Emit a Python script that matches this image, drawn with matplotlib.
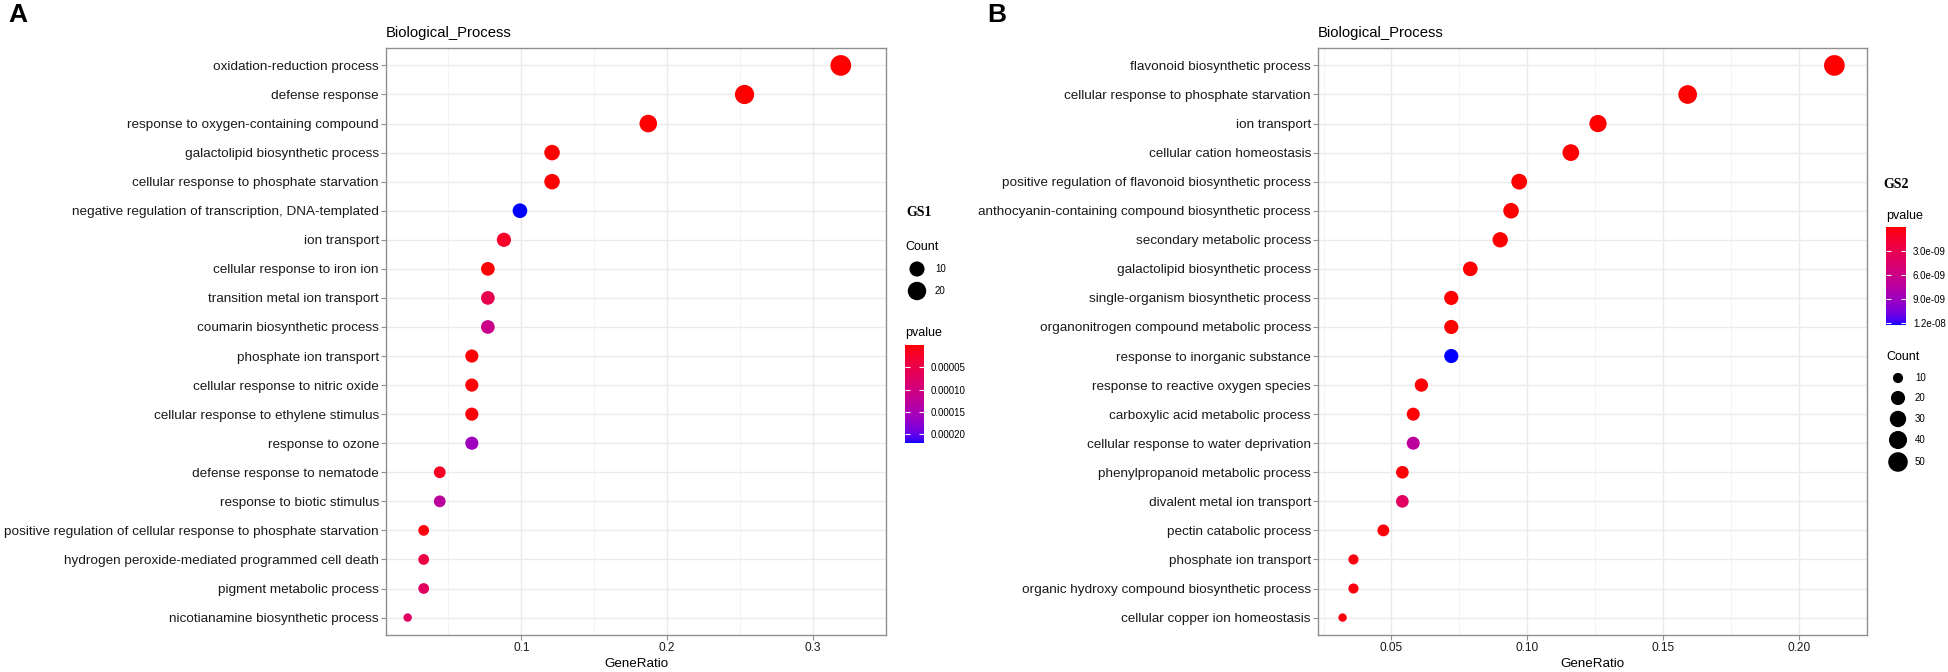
import numpy as np
import matplotlib
matplotlib.use("Agg")
import matplotlib.pyplot as plt
import matplotlib.colors as mcolors
from matplotlib.cm import ScalarMappable

plt.rcParams['font.family'] = ['Liberation Sans', 'DejaVu Sans']

# ---- data ----
gs1_terms = [
    "oxidation-reduction process",
    "defense response",
    "response to oxygen-containing compound",
    "galactolipid biosynthetic process",
    "cellular response to phosphate starvation",
    "negative regulation of transcription, DNA-templated",
    "ion transport",
    "cellular response to iron ion",
    "transition metal ion transport",
    "coumarin biosynthetic process",
    "phosphate ion transport",
    "cellular response to nitric oxide",
    "cellular response to ethylene stimulus",
    "response to ozone",
    "defense response to nematode",
    "response to biotic stimulus",
    "positive regulation of cellular response to phosphate starvation",
    "hydrogen peroxide-mediated programmed cell death",
    "pigment metabolic process",
    "nicotianamine biosynthetic process",
]
gs1_ratio = [0.319, 0.253, 0.187, 0.121, 0.121, 0.099, 0.088, 0.077, 0.077, 0.077,
             0.066, 0.066, 0.066, 0.066, 0.044, 0.044, 0.033, 0.033, 0.033, 0.022]
gs1_count = [29, 23, 17, 11, 11, 9, 8, 7, 7, 7, 6, 6, 6, 6, 4, 4, 3, 3, 3, 2]
gs1_pvalue = [1e-9, 1e-9, 1e-8, 1e-7, 1e-7, 2.2e-4, 2.2e-5, 2e-6, 5.5e-5, 1.1e-4,
              3e-6, 3e-6, 3e-6, 1.6e-4, 1.8e-5, 1.3e-4, 5e-6, 4.4e-5, 7e-5, 7e-5]

gs2_terms = [
    "flavonoid biosynthetic process",
    "cellular response to phosphate starvation",
    "ion transport",
    "cellular cation homeostasis",
    "positive regulation of flavonoid biosynthetic process",
    "anthocyanin-containing compound biosynthetic process",
    "secondary metabolic process",
    "galactolipid biosynthetic process",
    "single-organism biosynthetic process",
    "organonitrogen compound metabolic process",
    "response to inorganic substance",
    "response to reactive oxygen species",
    "carboxylic acid metabolic process",
    "cellular response to water deprivation",
    "phenylpropanoid metabolic process",
    "divalent metal ion transport",
    "pectin catabolic process",
    "phosphate ion transport",
    "organic hydroxy compound biosynthetic process",
    "cellular copper ion homeostasis",
]
gs2_ratio = [0.213, 0.159, 0.126, 0.116, 0.097, 0.094, 0.090, 0.079, 0.072, 0.072,
             0.072, 0.061, 0.058, 0.058, 0.054, 0.054, 0.047, 0.036, 0.036, 0.032]
gs2_count = [59, 44, 35, 32, 27, 26, 25, 22, 20, 20, 20, 17, 16, 16, 15, 15, 13, 10, 10, 9]
gs2_pvalue = [1e-15, 1e-14, 1e-13, 1e-13, 1e-12, 1e-12, 1e-12, 1e-11, 1e-11, 1e-11,
              1.23e-8, 1e-10, 1e-10, 7.3e-9, 1e-10, 3.9e-9, 2e-10, 3e-10, 3e-10, 4e-10]

gs1_xticks = [0.1, 0.2, 0.3]
gs1_xticklabels = ["0.1", "0.2", "0.3"]
gs2_xticks = [0.05, 0.10, 0.15, 0.20]
gs2_xticklabels = ["0.05", "0.10", "0.15", "0.20"]
gs1_pticks = [5e-5, 1e-4, 1.5e-4, 2e-4]
gs1_pticklabels = ["0.00005", "0.00010", "0.00015", "0.00020"]
gs2_pticks = [3e-9, 6e-9, 9e-9, 1.2e-8]
gs2_pticklabels = ["3.0e-09", "6.0e-09", "9.0e-09", "1.2e-08"]
gs1_count_legend = [10, 20]
gs2_count_legend = [10, 20, 30, 40, 50]

W, H, DPI = 1949, 672, 100

# red -> blue gradient interpolated in CIELAB (like ggplot)
M = np.array([[0.4124, 0.3576, 0.1805], [0.2126, 0.7152, 0.0722], [0.0193, 0.1192, 0.9505]])
WHITE = np.array([0.95047, 1.0, 1.08883])


def to_lab(c):
    rgb = np.array(mcolors.to_rgb(c))
    lin = np.where(rgb > 0.04045, ((rgb + 0.055) / 1.055) ** 2.4, rgb / 12.92)
    xyz = M @ lin / WHITE
    f = np.where(xyz > (6 / 29) ** 3, np.cbrt(xyz), xyz / (3 * (6 / 29) ** 2) + 4 / 29)
    return np.array([116 * f[1] - 16, 500 * (f[0] - f[1]), 200 * (f[1] - f[2])])


def from_lab(lab):
    fy_ = (lab[0] + 16) / 116
    f = np.array([fy_ + lab[1] / 500, fy_, fy_ - lab[2] / 200])
    xyz = np.where(f > 6 / 29, f ** 3, 3 * (6 / 29) ** 2 * (f - 4 / 29)) * WHITE
    lin = np.clip(np.linalg.solve(M, xyz), 0, None)
    rgb = np.where(lin > 0.0031308, 1.055 * lin ** (1 / 2.4) - 0.055, 12.92 * lin)
    return np.clip(rgb, 0, 1)


l0, l1 = to_lab("red"), to_lab("blue")
cmap = mcolors.ListedColormap([from_lab(l0 + t * (l1 - l0)) for t in np.linspace(0, 1, 256)])


def dot_size(c, cmin, cmax):
    d = 8.4 + 12.3 * np.sqrt((np.asarray(c, float) - cmin) / (cmax - cmin))
    return (d * 72 / DPI) ** 2


def frac(x0, y0, x1, y1):
    return [x0 / W, 1 - y1 / H, (x1 - x0) / W, (y1 - y0) / H]


fig = plt.figure(figsize=(W / DPI, H / DPI), dpi=DPI)


def panel(box, terms, ratio, count, pvalue, xticks, xticklabels):
    ax = fig.add_axes(frac(*box))
    n = len(terms)
    ypos = np.arange(n)[::-1]
    norm = mcolors.Normalize(min(pvalue), max(pvalue))
    ax.scatter(ratio, ypos, s=dot_size(count, min(count), max(count)), c=pvalue,
               cmap=cmap, norm=norm, edgecolors='none', zorder=3)
    lo, hi = min(ratio), max(ratio)
    ax.set_xlim(lo - 0.05 * (hi - lo), hi + 0.05 * (hi - lo))
    ax.set_ylim(-0.6, n - 0.4)
    ax.set_yticks(ypos)
    ax.set_yticklabels(terms, fontsize=9.7, color='#1a1a1a')
    ax.set_xticks(xticks)
    ax.set_xticklabels(xticklabels, fontsize=8.6, color='#1a1a1a')
    step = xticks[1] - xticks[0]
    minor = np.arange(xticks[0] - step / 2, hi + step, step)
    ax.set_xticks(minor, minor=True)
    ax.tick_params(which='minor', length=0)
    ax.tick_params(which='major', length=3.6, width=0.8, color='#8f8f8f', pad=1.5)
    ax.grid(which='major', color='#ebebeb', lw=1.0)
    ax.grid(which='minor', axis='x', color='#f3f3f3', lw=0.6)
    ax.set_axisbelow(True)
    for s in ax.spines.values():
        s.set_color('#8f8f8f')
        s.set_linewidth(1.0)
    ax.set_xlabel('GeneRatio', fontsize=9.6, labelpad=3)
    fig.text(box[0] / W, 1 - 33 / H, 'Biological_Process', fontsize=10.7, va='center')
    return norm


def colorbar(box, norm, ticks, labels):
    cax = fig.add_axes(frac(*box))
    cb = fig.colorbar(ScalarMappable(norm=norm, cmap=cmap), cax=cax, ticks=ticks)
    cb.outline.set_visible(False)
    cb.minorticks_off()
    cax.invert_yaxis()
    cb.set_ticklabels(labels)
    cax.tick_params(direction='in', length=3.5, width=0.8, color='white',
                    left=True, right=True, labelsize=7, pad=5)


norm1 = panel((386, 48, 886, 635), gs1_terms, gs1_ratio, gs1_count, gs1_pvalue,
              gs1_xticks, gs1_xticklabels)
norm2 = panel((1318, 48, 1867, 635), gs2_terms, gs2_ratio, gs2_count, gs2_pvalue,
              gs2_xticks, gs2_xticklabels)

fig.text(8 / W, 1 - 15 / H, 'A', fontsize=19, fontweight='bold', va='center')
fig.text(987 / W, 1 - 15 / H, 'B', fontsize=19, fontweight='bold', va='center')

# legends drawn on an overlay in pixel units
ov = fig.add_axes([0, 0, 1, 1])
ov.set_xlim(0, W)
ov.set_ylim(H, 0)
ov.axis('off')

# GS1 legend: Count then pvalue
ov.text(906, 212, 'GS1', fontsize=10, fontweight='bold', family='Liberation Serif', va='center')
ov.text(905, 247, 'Count', fontsize=9, va='center')
ly = [269, 291]
ov.scatter([917] * 2, ly, s=dot_size(gs1_count_legend, min(gs1_count), max(gs1_count)),
           color='black', edgecolors='none')
for y, c in zip(ly, gs1_count_legend):
    ov.text(935, y, str(c), fontsize=7, va='center')
ov.text(905, 333, 'pvalue', fontsize=9, va='center')
colorbar((905, 345, 924, 443), norm1, gs1_pticks, gs1_pticklabels)

# GS2 legend: pvalue then Count
ov.text(1883, 185, 'GS2', fontsize=10, fontweight='bold', family='Liberation Serif', va='center')
ov.text(1886, 216, 'pvalue', fontsize=9, va='center')
colorbar((1886, 227, 1906, 325), norm2, gs2_pticks, gs2_pticklabels)
ov.text(1886, 357, 'Count', fontsize=9, va='center')
ly = [378, 398, 419, 440, 462]
ov.scatter([1898] * 5, ly, s=dot_size(gs2_count_legend, min(gs2_count), max(gs2_count)),
           color='black', edgecolors='none')
for y, c in zip(ly, gs2_count_legend):
    ov.text(1915, y, str(c), fontsize=7, va='center')

fig.savefig('out.png', dpi=DPI, facecolor='white')
